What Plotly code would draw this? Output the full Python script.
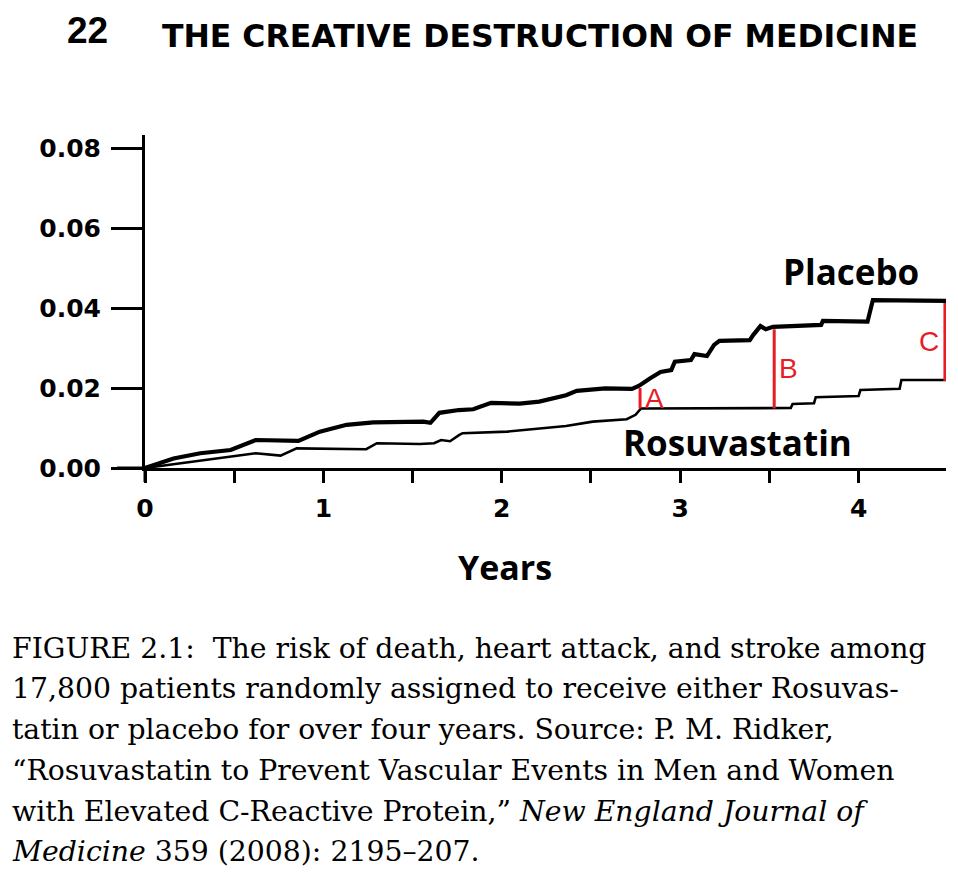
import plotly.graph_objects as go

# cumulative risk (years, proportion)
placebo_years = [0, 0.16, 0.31, 0.48, 0.62, 0.86, 0.98, 1.13, 1.28, 1.56, 1.60, 1.65, 1.76,
                 1.84, 1.94, 2.10, 2.21, 2.36, 2.42, 2.58, 2.73, 2.77, 2.83, 2.89, 2.95,
                 2.97, 3.06, 3.08, 3.15, 3.19, 3.22, 3.39, 3.41, 3.45, 3.48, 3.52, 3.79,
                 3.80, 4.05, 4.08, 4.49]
placebo_risk = [0, 0.0024, 0.0037, 0.0045, 0.0070, 0.0068, 0.0091, 0.0108, 0.0114, 0.0116,
                0.0113, 0.0138, 0.0145, 0.0147, 0.0163, 0.0161, 0.0166, 0.0182, 0.0193,
                0.0199, 0.0198, 0.0206, 0.0224, 0.0240, 0.0245, 0.0266, 0.0270, 0.0285,
                0.0280, 0.0308, 0.0318, 0.0320, 0.0333, 0.0355, 0.0347, 0.0353, 0.0358,
                0.0368, 0.0366, 0.0420, 0.0418]

rosu_years = [0, 0.16, 0.35, 0.62, 0.76, 0.85, 1.24, 1.30, 1.54, 1.62, 1.66, 1.71, 1.76,
              1.78, 2.03, 2.19, 2.36, 2.51, 2.70, 2.75, 2.78, 3.62, 3.63, 3.75, 3.76,
              4.00, 4.01, 4.23, 4.24, 4.49]
rosu_risk = [0, 0.0010, 0.0020, 0.0037, 0.0031, 0.0049, 0.0047, 0.0062, 0.0060, 0.0062,
             0.0070, 0.0067, 0.0082, 0.0087, 0.0091, 0.0098, 0.0105, 0.0116, 0.0122,
             0.0133, 0.0149, 0.0150, 0.0160, 0.0162, 0.0177, 0.0180, 0.0195, 0.0198,
             0.0220, 0.0220]

# red gap markers
gap_names = ["A", "B", "C"]
gap_years = [2.775, 3.527, 4.484]
gap_low = [0.0149, 0.0149, 0.0218]
gap_high = [0.0200, 0.0347, 0.0413]

y_ticks = [0, 0.02, 0.04, 0.06, 0.08]
y_labels = ["0.00", "0.02", "0.04", "0.06", "0.08"]
x_ticks = [0, 0.5, 1, 1.5, 2, 2.5, 3, 3.5, 4]
x_labels = ["0", "", "1", "", "2", "", "3", "", "4"]

caption_lines = [
    "FIGURE 2.1:  The risk of death, heart attack, and stroke among",
    "17,800 patients randomly assigned to receive either Rosuvas-",
    "tatin or placebo for over four years. Source: P. M. Ridker,",
    "\u201cRosuvastatin to Prevent Vascular Events in Men and Women",
    "with Elevated C-Reactive Protein,\u201d <i>New England Journal of</i>",
    "<i>Medicine</i> 359 (2008): 2195\u2013207.",
]

# the page body adds an 8px margin, so the figure is a bit smaller
OFF = 8
W, H = 958 - OFF, 881 - OFF
ML, MT = 145 - OFF, 135 - OFF
MR = W - (946 - OFF)
MB = H - (468 - OFF)
PW, PH = W - ML - MR, H - MT - MB
RED = "rgb(232, 28, 36)"


def px(x):
    # page pixel -> paper x
    return (x - OFF - ML) / PW


def py(y):
    # page pixel -> paper y
    return (H - MB - (y - OFF)) / PH


fig = go.Figure()
fig.add_trace(go.Scatter(x=placebo_years, y=placebo_risk, mode="lines",
                         line=dict(color="black", width=4.2)))
fig.add_trace(go.Scatter(x=rosu_years, y=rosu_risk, mode="lines",
                         line=dict(color="black", width=2.6)))

gx, gy = [], []
for x, lo, hi in zip(gap_years, gap_low, gap_high):
    gx += [x, x, None]
    gy += [lo, hi, None]
fig.add_trace(go.Scatter(x=gx, y=gy, mode="lines", line=dict(color=RED, width=3),
                         cliponaxis=False))

annots = []
for i, name in enumerate(gap_names):
    right = i == len(gap_names) - 1
    annots.append(dict(
        x=gap_years[i], y=(gap_low[i] + gap_high[i]) / 2, text=name, showarrow=False,
        xanchor="right" if right else "left", yanchor="middle",
        xshift=-4 if right else 3,
        font=dict(family="Liberation Sans", size=28, color=RED)))

annots.append(dict(x=3.96, y=0.0492, text="Placebo", showarrow=False,
                   xanchor="center", yanchor="middle",
                   font=dict(family="Open Sans", size=35, color="black", weight="bold")))
annots.append(dict(x=3.32, y=0.0065, text="Rosuvastatin", showarrow=False,
                   xanchor="center", yanchor="middle",
                   font=dict(family="Open Sans", size=35, color="black", weight="bold")))
annots.append(dict(xref="paper", yref="paper", x=px(505), y=py(567), text="Years",
                   showarrow=False, xanchor="center", yanchor="middle",
                   font=dict(family="Open Sans", size=34, color="black", weight="bold")))

# page header
annots.append(dict(xref="paper", yref="paper", x=px(65), y=py(OFF), xanchor="left",
                   yanchor="top", text="22", showarrow=False,
                   font=dict(family="Liberation Sans", size=37, color="black", weight="bold")))
annots.append(dict(xref="paper", yref="paper", x=px(160), y=py(36), xanchor="left",
                   yanchor="middle", text="THE CREATIVE DESTRUCTION OF MEDICINE",
                   showarrow=False,
                   font=dict(family="DejaVu Sans", size=31.5, color="black", weight="bold")))

for i, line in enumerate(caption_lines):
    annots.append(dict(xref="paper", yref="paper", x=px(10), y=py(648 + 40.8 * i),
                       xanchor="left", yanchor="middle", text=line, showarrow=False,
                       font=dict(family="DejaVu Serif", size=28.3, color="black")))

fig.update_layout(
    width=W,
    height=H,
    margin=dict(l=ML, r=MR, t=MT, b=MB, pad=0),
    paper_bgcolor="white",
    plot_bgcolor="white",
    showlegend=False,
    annotations=annots,
    xaxis=dict(
        range=[0, 4.49],
        tickvals=x_ticks,
        ticktext=x_labels,
        ticks="outside",
        ticklen=12,
        tickwidth=3,
        tickcolor="black",
        showline=True,
        linewidth=3,
        linecolor="black",
        showgrid=False,
        zeroline=False,
        ticklabelstandoff=4,
        tickfont=dict(family="DejaVu Sans", size=25, color="black", weight="bold"),
    ),
    yaxis=dict(
        range=[0, 0.0833],
        tickvals=y_ticks,
        ticktext=y_labels,
        ticks="outside",
        ticklen=31,
        tickwidth=3,
        tickcolor="black",
        showline=True,
        linewidth=3,
        linecolor="black",
        showgrid=False,
        zeroline=False,
        ticklabelstandoff=5,
        tickfont=dict(family="DejaVu Sans", size=25, color="black", weight="bold"),
    ),
    shapes=[
        # axis stubs beyond the origin
        dict(type="line", xref="paper", yref="paper", x0=0, x1=0, y0=0, y1=py(482),
             line=dict(color="black", width=3)),
        dict(type="line", xref="paper", yref="paper", x0=px(117), x1=0, y0=0, y1=0,
             line=dict(color="black", width=3)),
    ],
)

fig.write_html("out.html")
